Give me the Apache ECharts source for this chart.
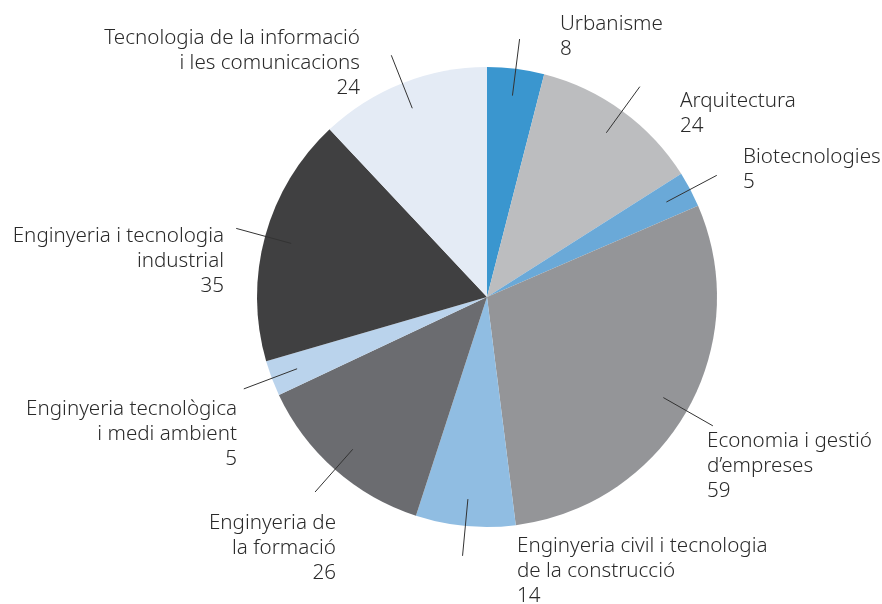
<!DOCTYPE html>
<html>
<head>
    <title>Pie</title>
    <meta charset="utf-8">
    <script type="text/javascript" src="https://cdn.jsdelivr.net/npm/echarts@6/dist/echarts.min.js"></script>
    <style>
        html, body { margin: 0; padding: 0; background: #fff; }
    </style>
</head>
<body>
    <div id="main" style="width: 882px; height: 604px;"></div>
    <script>
        const categories = [
            'Urbanisme',
            'Arquitectura',
            'Biotecnologies',
            'Economia i gestió\nd’empreses',
            'Enginyeria civil i tecnologia\nde la construcció',
            'Enginyeria de\nla formació',
            'Enginyeria tecnològica\ni medi ambient',
            'Enginyeria i tecnologia\nindustrial',
            'Tecnologia de la informació\ni les comunicacions'
        ];
        const values = [8, 24, 5, 59, 14, 26, 5, 35, 24];
        const colors = ['#3a96cf', '#bcbdbf', '#6aa9d8', '#949598', '#90bde2',
                        '#6b6c70', '#bad3ec', '#404041', '#e4ebf5'];

        // where each label block sits: [x, top of first line, align]
        const labelSpots = [
            [560, 12, 'left'], [680, 89, 'left'], [743, 145, 'left'],
            [707, 429, 'left'], [517, 534, 'left'], [336, 511, 'right'],
            [237, 397, 'right'], [224, 224, 'right'], [360, 26, 'right']
        ];

        const pieData = categories.map((name, i) => ({
            name: name,
            value: values[i],
            itemStyle: { color: colors[i] }
        }));

        const chart = echarts.init(document.getElementById('main'));
        chart.setOption({
            animation: false,
            series: [
                {
                    type: 'pie',
                    z: 1,
                    center: [487, 297],
                    radius: 230,
                    startAngle: 90,
                    clockwise: true,
                    avoidLabelOverlap: false,
                    silent: true,
                    data: pieData,
                    label: {
                        show: true,
                        position: 'outside',
                        formatter: '{b}\n{c}',
                        color: '#2a2a2a',
                        fontFamily: 'Noto Sans',
                        fontWeight: 300,
                        fontSize: 20.6,
                        lineHeight: 25
                    },
                    labelLine: { show: false },
                    labelLayout: function (p) {
                        const s = labelSpots[p.dataIndex];
                        return { x: s[0], y: s[1], align: s[2], verticalAlign: 'top' };
                    }
                },
                {
                    // invisible copy, only used for the leader lines
                    type: 'pie',
                    z: 5,
                    center: [487, 297],
                    radius: 203,
                    startAngle: 90,
                    clockwise: true,
                    avoidLabelOverlap: false,
                    silent: true,
                    data: pieData.map(d => ({ name: d.name, value: d.value })),
                    itemStyle: { color: 'rgba(0,0,0,0)' },
                    label: { show: true, position: 'outside', formatter: ' ', fontSize: 1 },
                    labelLine: {
                        show: true,
                        length: 57,
                        length2: 0,
                        lineStyle: { color: '#333', width: 1 }
                    }
                }
            ]
        });
    </script>
</body>
</html>
